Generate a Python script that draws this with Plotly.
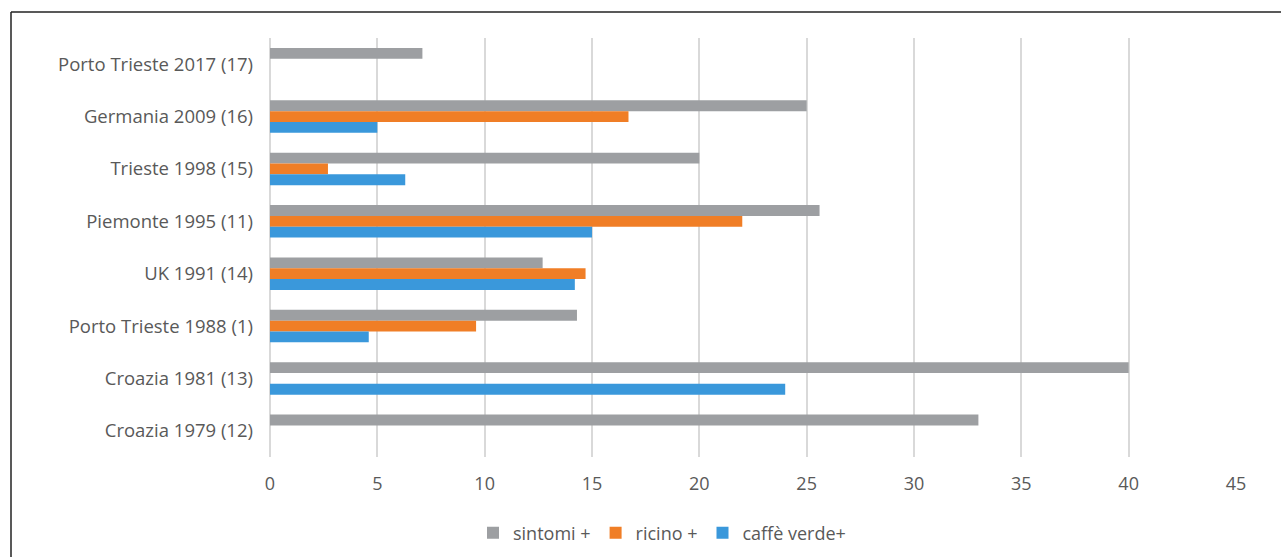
import plotly.graph_objects as go

categories = [
    "Porto Trieste 2017 (17)",
    "Germania 2009 (16)",
    "Trieste 1998 (15)",
    "Piemonte 1995 (11)",
    "UK 1991 (14)",
    "Porto Trieste 1988 (1)",
    "Croazia 1981 (13)",
    "Croazia 1979 (12)",
]
sintomi = [7.1, 25.0, 20.0, 25.6, 12.7, 14.3, 40.0, 33.0]
ricino = [None, 16.7, 2.7, 22.0, 14.7, 9.6, None, None]
caffe = [None, 5.0, 6.3, 15.0, 14.2, 4.6, 24.0, None]
x_ticks = [0, 5, 10, 15, 20, 25, 30, 35, 40, 45]

series = [
    ("sintomi +", sintomi, "#9D9FA2"),
    ("ricino +", ricino, "#F07E26"),
    ("caffè verde+", caffe, "#3A98DB"),
]

fig = go.Figure()
for name, vals, col in series:
    fig.add_trace(go.Bar(
        y=categories, x=vals, name=name, orientation="h",
        marker=dict(color=col, line=dict(width=0)),
    ))

W, H = 1281, 557
L, R, T, B = 270, 45, 38, 100
pw, ph = W - L - R, H - T - B

def px_x(p):
    return (p - L) / pw

def px_y(p):
    return (H - B - p) / ph

FS = 18
fig.update_layout(
    width=W, height=H,
    margin=dict(l=L, r=R, t=T, b=B, autoexpand=False),
    paper_bgcolor="white", plot_bgcolor="white",
    barmode="group", bargap=0.38, bargroupgap=0,
    font=dict(family="Open Sans", color="#595959", size=FS),
    xaxis=dict(
        range=[0, 45], tickvals=x_ticks, showgrid=True,
        gridcolor="#D9D9D9", gridwidth=2, zeroline=True,
        zerolinecolor="#D9D9D9", zerolinewidth=2,
        showline=False, ticks="", tickfont=dict(size=FS, color="#595959"),
        ticklabelstandoff=14, automargin=False,
    ),
    yaxis=dict(
        categoryorder="array", categoryarray=categories,
        autorange="reversed", showgrid=False, showline=False,
        ticks="", tickfont=dict(size=18.5, color="#595959"),
        ticklabelstandoff=16, automargin=False,
    ),
    legend=dict(
        orientation="h", x=px_x(662), xanchor="center",
        y=px_y(533), yanchor="middle", itemwidth=30,
        font=dict(size=FS, color="#595959"), traceorder="normal",
    ),
    shapes=[
        dict(type="line", xref="paper", yref="paper",
             x0=px_x(11), x1=px_x(W + 5), y0=px_y(12), y1=px_y(12),
             line=dict(color="#222222", width=1.5)),
        dict(type="line", xref="paper", yref="paper",
             x0=px_x(11), x1=px_x(11), y0=px_y(12), y1=px_y(H + 5),
             line=dict(color="#222222", width=1.5)),
    ],
)

fig.write_html("out.html")
